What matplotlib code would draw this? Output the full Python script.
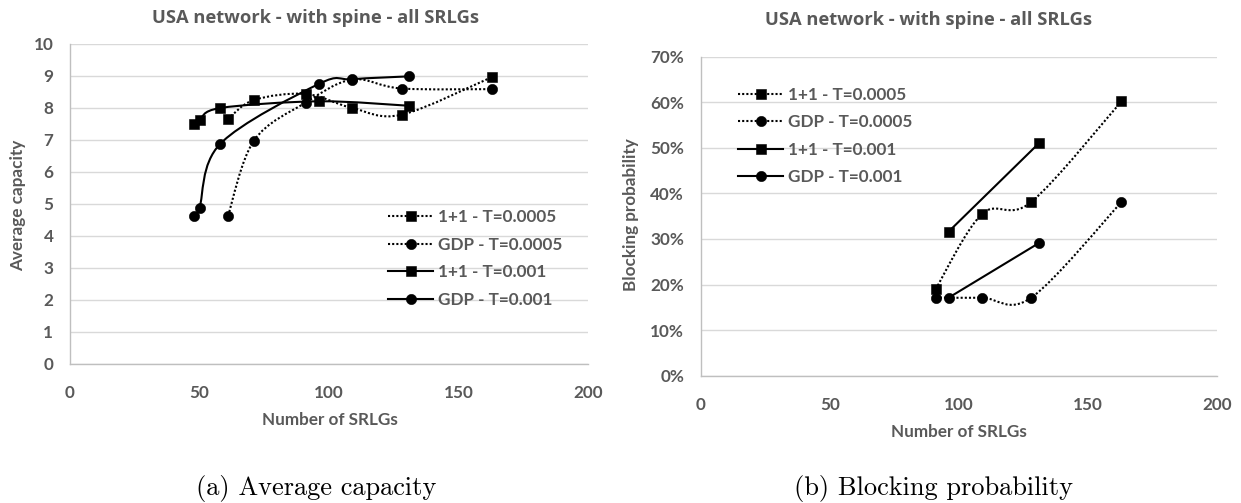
import numpy as np
import matplotlib
matplotlib.use("Agg")
import matplotlib.pyplot as plt
from matplotlib.path import Path
from matplotlib.patches import PathPatch
from matplotlib.lines import Line2D
from matplotlib.ticker import PercentFormatter, MultipleLocator

# ---------------- data ----------------
series_labels = ["1+1 - T=0.0005", "GDP - T=0.0005", "1+1 - T=0.001", "GDP - T=0.001"]

# (a) Average capacity
cap_11_0005_x = [61, 71, 91, 109, 128, 163]
cap_11_0005_y = [7.65, 8.24, 8.43, 7.99, 7.78, 8.96]
cap_gdp_0005_x = [61, 71, 91, 109, 128, 163]
cap_gdp_0005_y = [4.62, 6.97, 8.16, 8.88, 8.60, 8.58]
cap_11_001_x = [48, 50, 58, 96, 131]
cap_11_001_y = [7.49, 7.61, 7.99, 8.20, 8.06]
cap_gdp_001_x = [48, 50, 58, 96, 109, 131]
cap_gdp_001_y = [4.62, 4.88, 6.87, 8.74, 8.89, 8.98]

# (b) Blocking probability
blk_11_0005_x = [91, 109, 128, 163]
blk_11_0005_y = [0.190, 0.355, 0.381, 0.602]
blk_gdp_0005_x = [91, 109, 128, 163]
blk_gdp_0005_y = [0.171, 0.171, 0.171, 0.381]
blk_11_001_x = [96, 131]
blk_11_001_y = [0.316, 0.510]
blk_gdp_001_x = [96, 131]
blk_gdp_001_y = [0.171, 0.291]

title_text = "USA network - with spine - all SRLGs"
xlabel_text = "Number of SRLGs"
ylabel_a = "Average capacity"
ylabel_b = "Blocking probability"
caption_a = "(a) Average capacity"
caption_b = "(b) Blocking probability"

# ---------------- style ----------------
W, H = 1241, 503
TXT = "#595959"
GRID = "#d9d9d9"
AXL = "#bfbfbf"
FONT = "Lato"
FS = 12.3
DOT = (0, (1, 1))
LW = 1.5
styles = [
    dict(ls=DOT, marker="s", ms=7.0),
    dict(ls=DOT, marker="o", ms=7.4),
    dict(ls="-", marker="s", ms=7.0),
    dict(ls="-", marker="o", ms=7.4),
]

plt.rcParams["font.family"] = [FONT, "DejaVu Sans"]
plt.rcParams["font.weight"] = "bold"

fig = plt.figure(figsize=(W / 100, H / 100), dpi=100)


def fx(px):
    return px / W


def fy(py):
    return 1 - py / H


def smooth_path(x, y):
    pts = np.column_stack([x, y]).astype(float)
    n = len(pts)
    verts = [pts[0]]
    codes = [Path.MOVETO]
    for i in range(n - 1):
        p0 = pts[max(i - 1, 0)]
        p1 = pts[i]
        p2 = pts[i + 1]
        p3 = pts[min(i + 2, n - 1)]
        c1 = p1 + (p2 - p0) / 6.0
        c2 = p2 - (p3 - p1) / 6.0
        verts += [c1, c2, p2]
        codes += [Path.CURVE4] * 3
    return Path(verts, codes)


def draw_series(ax, x, y, st):
    ax.add_patch(PathPatch(smooth_path(x, y), fill=False, edgecolor="black",
                           lw=LW, linestyle=st["ls"], zorder=3))
    ax.plot(x, y, linestyle="none", marker=st["marker"], ms=st["ms"],
            color="black", mec="black", mew=0.4, zorder=4)


def style_axes(ax):
    for s in ["top", "right"]:
        ax.spines[s].set_visible(False)
    for s in ["left", "bottom"]:
        ax.spines[s].set_color(AXL)
        ax.spines[s].set_linewidth(1.0)
    ax.grid(axis="y", color=GRID, lw=1.0, zorder=0)
    ax.set_axisbelow(True)
    ax.tick_params(length=0, labelsize=FS, labelcolor=TXT)
    for lab in ax.get_xticklabels() + ax.get_yticklabels():
        lab.set_fontweight("bold")
    ax.set_xlim(0, 200)
    ax.xaxis.set_major_locator(MultipleLocator(50))


def make_legend(ax, anchor):
    handles = [Line2D([], [], color="black", lw=LW, linestyle=st["ls"],
                      marker=st["marker"], ms=st["ms"], mew=0.4)
               for st in styles]
    leg = ax.legend(handles, series_labels, loc="upper left",
                    bbox_to_anchor=anchor, frameon=False, fontsize=FS,
                    handlelength=2.63, handletextpad=0.3, labelspacing=0.68,
                    borderpad=0, borderaxespad=0, numpoints=1)
    for t in leg.get_texts():
        t.set_color(TXT)
        t.set_fontweight("bold")
    return leg


# ---------------- (a) ----------------
axa = fig.add_axes([fx(70), fy(363.7), fx(518), 320 / H])
style_axes(axa)
axa.set_ylim(0, 10)
axa.yaxis.set_major_locator(MultipleLocator(1))
axa.tick_params(axis="y", pad=12)
axa.tick_params(axis="x", pad=15)
draw_series(axa, cap_11_0005_x, cap_11_0005_y, styles[0])
draw_series(axa, cap_gdp_0005_x, cap_gdp_0005_y, styles[1])
draw_series(axa, cap_11_001_x, cap_11_001_y, styles[2])
draw_series(axa, cap_gdp_001_x, cap_gdp_001_y, styles[3])
make_legend(axa, ((388.3 - 70) / 518, (363.7 - 209.0) / 320))

# ---------------- (b) ----------------
axb = fig.add_axes([fx(700.7), fy(375.7), fx(516.3), 319 / H])
style_axes(axb)
axb.set_ylim(0, 0.7)
axb.yaxis.set_major_locator(MultipleLocator(0.1))
axb.yaxis.set_major_formatter(PercentFormatter(xmax=1, decimals=0))
axb.tick_params(axis="y", pad=12)
axb.tick_params(axis="x", pad=15)
draw_series(axb, blk_11_0005_x, blk_11_0005_y, styles[0])
draw_series(axb, blk_gdp_0005_x, blk_gdp_0005_y, styles[1])
draw_series(axb, blk_11_001_x, blk_11_001_y, styles[2])
draw_series(axb, blk_gdp_001_x, blk_gdp_001_y, styles[3])
make_legend(axb, ((738.3 - 700.7) / 516.3, (375.7 - 86.5) / 319))

# ---------------- texts ----------------
fig.text(fx(315.6), fy(18), title_text, ha="center", va="center",
         fontsize=13.2, color=TXT, fontweight="bold",
         family=["Open Sans", "DejaVu Sans"])
fig.text(fx(929), fy(20), title_text, ha="center", va="center",
         fontsize=13.2, color=TXT, fontweight="bold",
         family=["Open Sans", "DejaVu Sans"])
fig.text(fx(330), fy(420), xlabel_text, ha="center", va="center",
         fontsize=FS, color=TXT, fontweight="bold")
fig.text(fx(959), fy(431.7), xlabel_text, ha="center", va="center",
         fontsize=FS, color=TXT, fontweight="bold")
fig.text(fx(18), fy(205), ylabel_a, ha="center", va="center", rotation=90,
         fontsize=FS, color=TXT, fontweight="bold")
fig.text(fx(631.3), fy(215), ylabel_b, ha="center", va="center", rotation=90,
         fontsize=FS, color=TXT, fontweight="bold")
fig.text(fx(316), fy(488), caption_a, ha="center", va="center",
         fontsize=19, family="cmr10", fontweight="normal", color="black")
fig.text(fx(934), fy(488), caption_b, ha="center", va="center",
         fontsize=19, family="cmr10", fontweight="normal", color="black")

fig.savefig("out.png", dpi=100, facecolor="white")
